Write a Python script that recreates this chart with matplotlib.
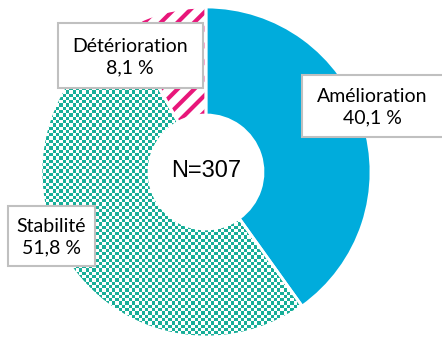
import numpy as np
import matplotlib.pyplot as plt
from matplotlib.colors import ListedColormap
from matplotlib.patches import Rectangle

labels = ["Amélioration", "Stabilité", "Détérioration"]
values = [40.1, 51.8, 8.1]
pct_txt = ["40,1 %", "51,8 %", "8,1 %"]
n_txt = "N=307"

blue = "#00acdc"
teal = "#17ae98"
pink = "#e8167a"

plt.rcParams["hatch.linewidth"] = 3.0

fig = plt.figure(figsize=(4.42, 3.41), dpi=100)
ax = fig.add_axes([0, 0, 1, 1])

cx, cy, R, w = 206, 169, 165, 108

wedges, _ = ax.pie(values, startangle=90, counterclock=False, radius=R, center=(cx, cy),
                   wedgeprops=dict(width=w, linewidth=0), frame=True)

wedges[0].set_facecolor(blue)
wedges[0].set_edgecolor(blue)
# stabilite: damier clippe sur la part
wedges[1].set_facecolor("white")
sq = 3.3
nx, ny = int(442 / sq) + 1, int(341 / sq) + 1
chk = (np.add.outer(np.arange(ny), np.arange(nx)) % 2).astype(float)
im = ax.imshow(chk, cmap=ListedColormap(["white", teal]), extent=(0, nx * sq, 0, ny * sq),
               origin="lower", interpolation="nearest", zorder=1.5)
im.set_clip_path(wedges[1])
# deterioration: rayures roses
wedges[2].set_facecolor("white")
wedges[2].set_edgecolor(pink)
wedges[2].set_hatch("//")

# separateurs blancs
sep, _ = ax.pie(values, startangle=90, counterclock=False, radius=R, center=(cx, cy),
                wedgeprops=dict(width=w, linewidth=2, edgecolor="white", fill=False))
for s in sep:
    s.set_zorder(3)
ax.set_xlim(0, 442)
ax.set_ylim(0, 341)
ax.set_aspect("equal")
ax.axis("off")

ax.text(cx, cy + 1, n_txt, ha="center", va="center", fontsize=17, family="Liberation Sans", zorder=4)

# boites des etiquettes (x0, y0, largeur, hauteur) et centres du texte
boxes = [(302, 204, 145, 62), (8, 75, 87, 60), (58, 253, 145, 65)]
lab_pos = [(372, 234), (51, 104), (130, 284)]
for i in range(3):
    x0, y0, bw, bh = boxes[i]
    ax.add_patch(Rectangle((x0, y0), bw, bh, facecolor="white", edgecolor="#c0c0c0",
                           linewidth=1.5, zorder=5))
    ax.text(lab_pos[i][0], lab_pos[i][1], labels[i] + "\n" + pct_txt[i], ha="center", va="center",
            fontsize=14, family="Lato", linespacing=1.3, zorder=6)

fig.savefig("out.png", dpi=100)
